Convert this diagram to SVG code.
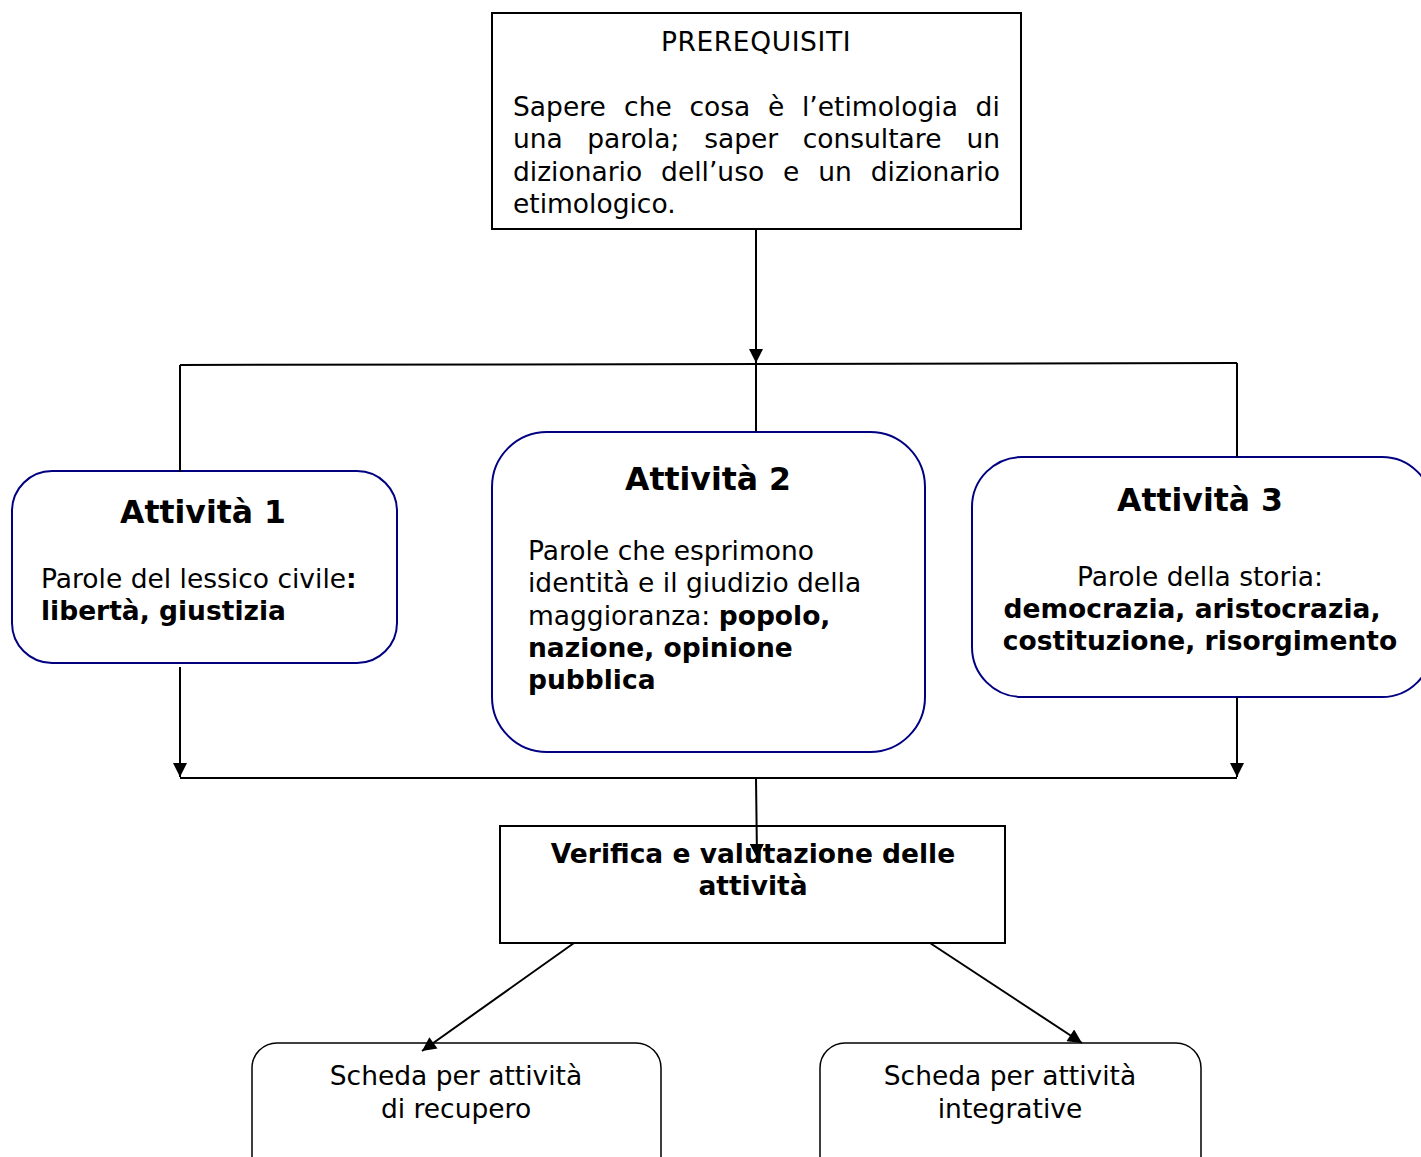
<svg xmlns="http://www.w3.org/2000/svg" width="1421" height="1157" viewBox="0 0 1421 1157">
<style>
.t{font-family:"DejaVu Sans","Verdana",sans-serif;font-size:26.5px;fill:#000}
.b{font-weight:bold}
.h{font-family:"DejaVu Sans","Verdana",sans-serif;font-size:31.5px;font-weight:bold;fill:#000}
.c{text-anchor:middle}
.sq{fill:#fff;stroke:#000;stroke-width:2}
.rb{fill:#fff;stroke:#000080;stroke-width:2}
.rk{fill:#fff;stroke:#000;stroke-width:1.5}
.ln{fill:none;stroke:#000;stroke-width:2}
</style>
<defs>
<marker id="ah" viewBox="0 0 10 10" refX="10" refY="5" markerWidth="15" markerHeight="14" markerUnits="userSpaceOnUse" orient="auto">
<path d="M0,0 L10,5 L0,10 z" fill="#000"/>
</marker>
</defs>
<g id="prerequisiti">
<rect class="sq" x="492" y="13" width="529" height="216"/>
<text class="t c" x="756" y="51" letter-spacing="0.6">PREREQUISITI</text>
<text class="t" y="116"><tspan x="513">Sapere</tspan><tspan x="624.1">che</tspan><tspan x="689.5">cosa</tspan><tspan x="768">è</tspan><tspan x="802">l’etimologia</tspan><tspan x="975.6">di</tspan></text>
<text class="t" y="148"><tspan x="513">una</tspan><tspan x="587.2">parola;</tspan><tspan x="704.2">saper</tspan><tspan x="802.7">consultare</tspan><tspan x="966.4">un</tspan></text>
<text class="t" y="181"><tspan x="513">dizionario</tspan><tspan x="661.1">dell’uso</tspan><tspan x="783.1">e</tspan><tspan x="818.3">un</tspan><tspan x="870.8">dizionario</tspan></text>
<text class="t" x="513" y="213">etimologico.</text>
</g>
<g id="attivita1">
<rect class="rb" x="12" y="471" width="385" height="192" rx="40" ry="40"/>
<text class="h c" x="203" y="523">Attività 1</text>
<text class="t" x="41" y="588">Parole del lessico civile<tspan class="b">:</tspan></text>
<text class="t b" x="41" y="620">libertà, giustizia</text>
</g>
<g id="attivita2">
<rect class="rb" x="492" y="432" width="433" height="320" rx="55" ry="55"/>
<text class="h c" x="708" y="490">Attività 2</text>
<text class="t" x="528" y="560">Parole che esprimono</text>
<text class="t" x="528" y="592">identità e il giudizio della</text>
<text class="t" x="528" y="625">maggioranza: <tspan class="b">popolo,</tspan></text>
<text class="t b" x="528" y="657">nazione, opinione</text>
<text class="t b" x="528" y="689">pubblica</text>
</g>
<g id="attivita3">
<rect class="rb" x="972" y="457" width="460" height="240" rx="50" ry="50"/>
<text class="h c" x="1200" y="511">Attività 3</text>
<text class="t c" x="1200" y="586">Parole della storia:</text>
<text class="t b c" x="1192" y="618">democrazia, aristocrazia,</text>
<text class="t b c" x="1200" y="650">costituzione, risorgimento</text>
</g>
<g id="verifica">
<rect class="sq" x="500" y="826" width="505" height="117"/>
<text class="t b c" x="753" y="863">Verifica e valutazione delle</text>
<text class="t b c" x="753" y="895">attività</text>
</g>
<g id="recupero">
<rect class="rk" x="252" y="1043" width="409" height="140" rx="25" ry="25"/>
<text class="t c" x="456" y="1085">Scheda per attività</text>
<text class="t c" x="456" y="1118">di recupero</text>
</g>
<g id="integrative">
<rect class="rk" x="820" y="1043" width="381" height="140" rx="25" ry="25"/>
<text class="t c" x="1010" y="1085">Scheda per attività</text>
<text class="t c" x="1010" y="1118">integrative</text>
</g>
<g id="connectors">
<line class="ln" x1="756" y1="229" x2="756" y2="363" marker-end="url(#ah)"/>
<line class="ln" x1="180" y1="365" x2="1237" y2="363"/>
<line class="ln" x1="180" y1="365" x2="180" y2="472"/>
<line class="ln" x1="756" y1="363" x2="756" y2="432"/>
<line class="ln" x1="1237" y1="363" x2="1237" y2="457"/>
<line class="ln" x1="180" y1="667" x2="180" y2="777" marker-end="url(#ah)"/>
<line class="ln" x1="1237" y1="697" x2="1237" y2="777" marker-end="url(#ah)"/>
<line class="ln" x1="180" y1="778" x2="1237" y2="778"/>
<line class="ln" x1="756" y1="778" x2="757" y2="858" marker-end="url(#ah)"/>
<line class="ln" x1="574" y1="943" x2="422" y2="1051" marker-end="url(#ah)"/>
<line class="ln" x1="930" y1="943" x2="1082" y2="1043" marker-end="url(#ah)"/>
</g>
</svg>
